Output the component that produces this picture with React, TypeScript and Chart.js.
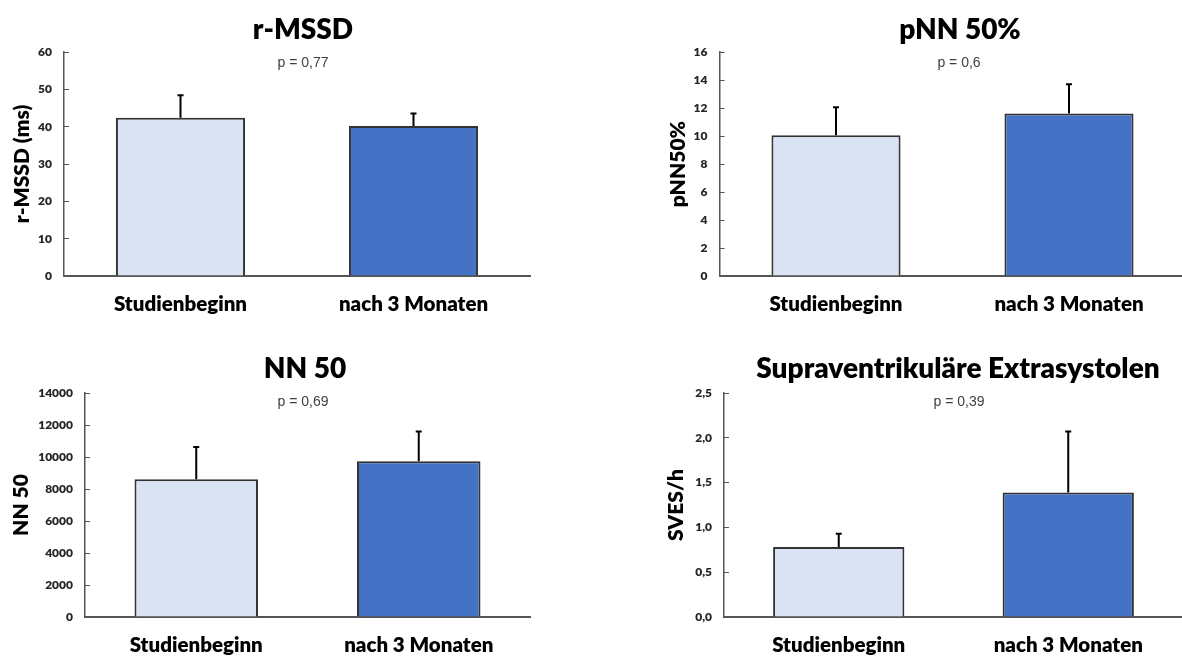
import React, { useEffect, useRef } from "react";
import { Chart, registerables } from "chart.js";

Chart.register(...registerables);

// ---------- data ----------
const categories = ["Studienbeginn", "nach 3 Monaten"];

const rmssdMeans = [42.4, 40.2];
const rmssdErrors = [6.0, 3.3];

const pnn50Means = [10.05, 11.6];
const pnn50Errors = [2.0, 2.1];

const nn50Means = [8610, 9740];
const nn50Errors = [2020, 1850];

const svesMeans = [0.78, 1.39];
const svesErrors = [0.15, 0.68];

const panelTitles = ["r-MSSD", "pNN 50%", "NN 50", "Supraventrikuläre Extrasystolen"];
const pValueLabels = ["p = 0,77", "p = 0,6", "p = 0,69", "p = 0,39"];
const yAxisTitles = ["r-MSSD (ms)", "pNN50%", "NN 50", "SVES/h"];
const yMaxima = [60, 16, 14000, 2.5];
const yStepSizes = [10, 2, 2000, 0.5];
const yDecimals = [0, 0, 0, 1];

const barColors = ["#DAE3F3", "#4472C4"];

// ---------- layout (canvas coordinates) ----------
type Layout = {
  left: number; top: number; w: number; h: number;
  aL: number; aR: number; aT: number; aB: number;
  yTitleX: number; titleX: number; titleY: number; pX: number; pY: number;
  barPct: number;
};

const layouts: Layout[] = [
  { left: 0, top: 0, w: 591, h: 329, aL: 64, aR: 530, aT: 52, aB: 276, yTitleX: 22, titleX: 303, titleY: 30, pX: 303, pY: 63, barPct: 0.554 },
  { left: 591, top: 0, w: 600, h: 329, aL: 128.5, aR: 594.5, aT: 52, aB: 276, yTitleX: 87, titleX: 369, titleY: 30, pX: 368, pY: 63, barPct: 0.554 },
  { left: 0, top: 329, w: 591, h: 329, aL: 85, aR: 530, aT: 64, aB: 288, yTitleX: 21, titleX: 305, titleY: 40, pX: 303, pY: 73, barPct: 0.555 },
  { left: 591, top: 329, w: 600, h: 329, aL: 133, aR: 592, aT: 64, aB: 288, yTitleX: 85, titleX: 367, titleY: 40, pX: 368, pY: 73, barPct: 0.572 },
];

const panelMeans = [rmssdMeans, pnn50Means, nn50Means, svesMeans];
const panelErrors = [rmssdErrors, pnn50Errors, nn50Errors, svesErrors];

function fmt(v: number, dec: number) {
  return Number(v).toFixed(dec).replace(".", ",");
}

function Panel({ idx }: { idx: number }) {
  const ref = useRef<HTMLCanvasElement | null>(null);
  const L = layouts[idx];

  useEffect(() => {
    if (!ref.current) return;
    const means = panelMeans[idx];
    const errors = panelErrors[idx];

    const errorBars = {
      id: "errorBars" + idx,
      afterDatasetsDraw(chart: any) {
        const meta = chart.getDatasetMeta(0);
        const ys = chart.scales.y;
        const ctx = chart.ctx;
        ctx.save();
        ctx.strokeStyle = "#000000";
        ctx.lineWidth = 2;
        meta.data.forEach((el: any, i: number) => {
          const x = el.x;
          const yBase = ys.getPixelForValue(means[i]);
          const yTop = ys.getPixelForValue(means[i] + errors[i]);
          ctx.beginPath();
          ctx.moveTo(x, yBase);
          ctx.lineTo(x, yTop);
          ctx.moveTo(x - 3, yTop);
          ctx.lineTo(x + 3, yTop);
          ctx.stroke();
        });
        ctx.restore();
      },
    };

    const texts = {
      id: "panelTexts" + idx,
      afterDraw(chart: any) {
        const ctx = chart.ctx;
        ctx.save();
        ctx.textAlign = "center";
        ctx.textBaseline = "middle";
        ctx.fillStyle = "#000000";
        ctx.font = "800 28px Lato";
        ctx.fillText(panelTitles[idx], L.titleX, L.titleY);
        ctx.fillStyle = "#404040";
        ctx.font = "14px 'Liberation Sans'";
        ctx.fillText(pValueLabels[idx], L.pX, L.pY);
        ctx.restore();
      },
    };

    const chart = new Chart(ref.current, {
      type: "bar",
      data: {
        labels: categories,
        datasets: [
          {
            data: means,
            backgroundColor: barColors,
            borderColor: "#333333",
            borderWidth: 2,
            barPercentage: L.barPct,
            categoryPercentage: 1,
          },
        ],
      },
      options: {
        animation: false,
        responsive: false,
        devicePixelRatio: 1,
        layout: {
          padding: { left: 0, top: L.aT, right: L.w - L.aR, bottom: 0 },
        },
        plugins: {
          legend: { display: false },
          tooltip: { enabled: false },
          title: { display: false },
        },
        scales: {
          x: {
            type: "category",
            offset: true,
            grid: { display: false, drawTicks: false },
            border: { display: true, color: "#555555", width: 2 },
            ticks: {
              padding: 16,
              color: "#000000",
              font: { family: "Lato", size: 20.5, weight: "800" },
              maxRotation: 0,
            },
            afterFit(scale: any) {
              scale.height = L.h - L.aB;
            },
          },
          y: {
            min: 0,
            max: yMaxima[idx],
            grid: {
              display: true,
              drawOnChartArea: false,
              drawTicks: true,
              tickLength: -5,
              color: "#555555",
              lineWidth: 1,
            },
            border: { display: true, color: "#555555", width: 1.5 },
            ticks: {
              stepSize: yStepSizes[idx],
              padding: 17,
              color: "#262626",
              font: { family: "Lato", size: 12, weight: "800" },
              callback: (v: any) => fmt(Number(v), yDecimals[idx]),
            },
            title: {
              display: true,
              text: yAxisTitles[idx],
              color: "#000000",
              font: { family: "Lato", size: 21, weight: "800" },
              padding: { top: L.yTitleX - 12.6, bottom: 0 },
            },
            afterFit(scale: any) {
              scale.width = L.aL;
            },
          },
        },
      } as any,
      plugins: [errorBars, texts],
    });
    return () => chart.destroy();
  }, [idx]);

  return (
    <div style={{ position: "absolute", left: L.left, top: L.top, width: L.w, height: L.h }}>
      <canvas ref={ref} width={L.w} height={L.h} style={{ width: L.w, height: L.h, display: "block" }} />
    </div>
  );
}

export default function App() {
  return (
    <div
      style={{
        position: "absolute",
        left: 0,
        top: 0,
        width: 1182,
        height: 658,
        overflow: "hidden",
        background: "#ffffff",
      }}
    >
      {[0, 1, 2, 3].map((i) => (
        <Panel key={i} idx={i} />
      ))}
    </div>
  );
}
